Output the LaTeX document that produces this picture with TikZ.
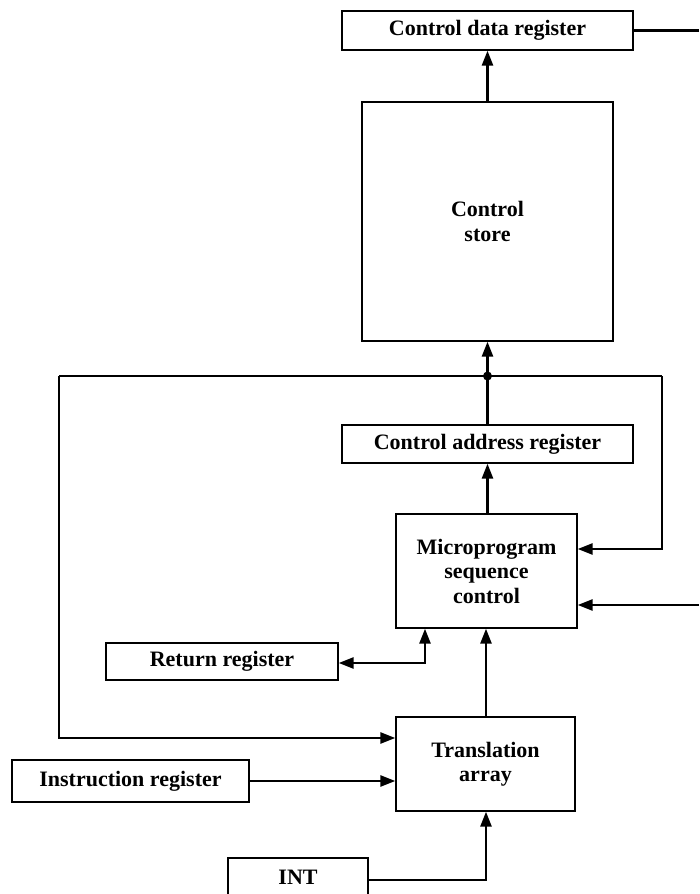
\documentclass[tikz,border=0pt]{standalone}
\usepackage{fontspec}
\setmainfont{Liberation Serif}
\usetikzlibrary{arrows.meta}

\tikzset{
  box/.style={draw, line width=1.3pt, inner sep=0pt, align=center,
    font=\fontsize{22}{24.5}\selectfont\bfseries},
  conn/.style={line width=2.6pt},
  tip/.tip={Triangle[length=15pt,width=11pt]},
  arr/.style={conn, -tip},
  biarr/.style={conn, tip-tip},
  junction/.style={circle, fill, inner sep=0pt, minimum size=9pt},
}

\begin{document}
\begin{tikzpicture}[x=1pt,y=-1pt]
\useasboundingbox (0,0) rectangle (699,894);

% blocks
\node[box, minimum width=291pt, minimum height=39pt] (cdr) at (487.5,30.5) {Control data register};
\node[box, minimum width=251pt, minimum height=239pt] (cs) at (487.5,221.5) {Control\\store};
\node[box, minimum width=291pt, minimum height=38pt] (car) at (487.5,444) {Control address register};
\node[box, minimum width=181pt, minimum height=114pt] (msc) at (486.5,571) {Microprogram\\sequence\\control};
\node[box, minimum width=232pt, minimum height=37pt] (rr) at (222,661.5) {Return register};
\node[box, minimum width=179pt, minimum height=94pt] (ta) at (485.5,764) {Translation\\array};
\node[box, minimum width=237pt, minimum height=42pt] (ir) at (130.5,781) {Instruction register};
\node[box, minimum width=140pt, minimum height=38pt] (int) at (298,877) {INT};

% routing points
\node[junction] (j) at (487.5,376) {};
\coordinate (jl) at (59,376);
\coordinate (jr) at (662,376);
\coordinate (ll) at (59,738);
\coordinate (rl) at (662,549);
\coordinate (cdrout) at (699,30.5);
\coordinate (ext) at (699,605);
\coordinate (rrb) at (425,663);
\coordinate (intb) at (486,880);

% connectors
\draw[arr] (cdr.south |- cs.north) -- (cdr.south);
\draw[conn] (cdr.east) -- (cdrout);
\draw[arr] (j.center) -- (j |- cs.south);
\draw[conn] (car.north) -- (j.center);
\draw[conn, line join=miter] (jl) -- (jr);
\draw[arr, line join=miter] (jl) -- (ll) -- (ll -| ta.west);
\draw[arr, line join=miter] (jr) -- (rl) -- (rl -| msc.east);
\draw[arr] (car.south |- msc.north) -- (car.south);
\draw[arr] (ext) -- (ext -| msc.east);
\draw[biarr, line join=miter] (rrb -| rr.east) -- (rrb) -- (rrb |- msc.south);
\draw[arr] (ta.north -| intb) -- (intb |- msc.south);
\draw[arr] (ir.east) -- (ir.east -| ta.west);
\draw[arr, line join=miter] (intb -| int.east) -- (intb) -- (intb |- ta.south);
\end{tikzpicture}
\end{document}
